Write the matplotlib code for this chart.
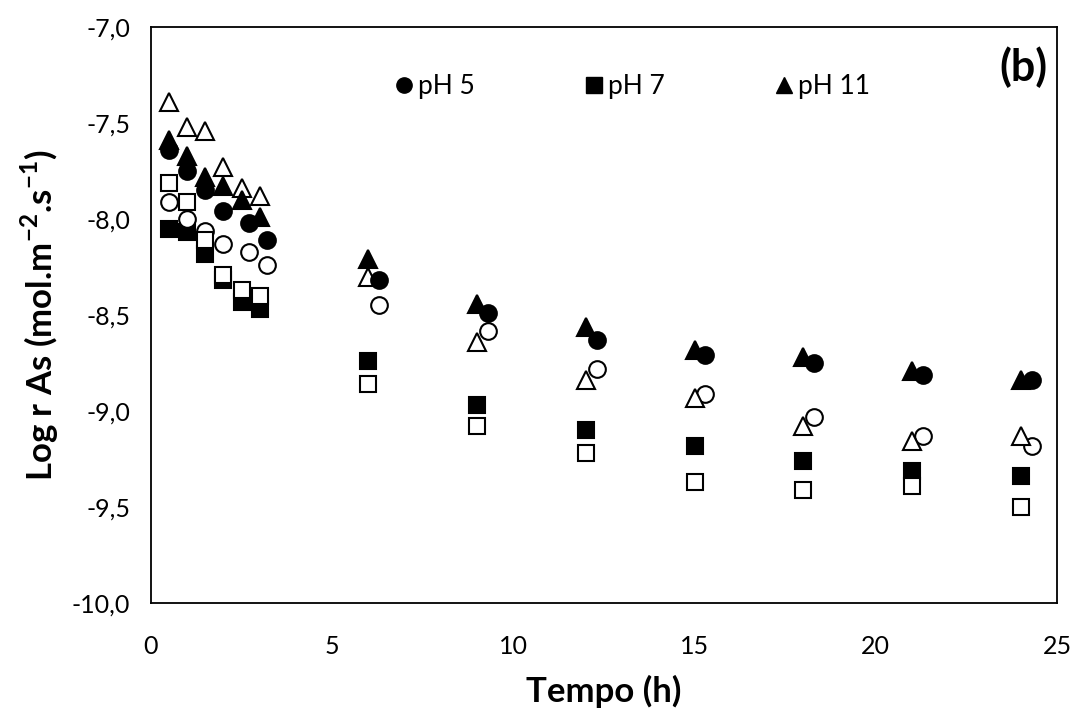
import numpy as np
import matplotlib
matplotlib.use("Agg")
import matplotlib.pyplot as plt
from matplotlib.ticker import FuncFormatter

# times (h); pH 5 points are shifted a little to the right in the original
t_main = [0.5, 1, 1.5, 2, 2.5, 3, 6, 9, 12, 15, 18, 21, 24]
t_ph5 = [0.5, 1, 1.5, 2, 2.7, 3.2, 6.3, 9.3, 12.3, 15.3, 18.3, 21.3, 24.3]

ph5_filled = [-7.64, -7.75, -7.85, -7.96, -8.02, -8.11, -8.32, -8.49, -8.63, -8.71, -8.75, -8.81, -8.84]
ph5_open = [-7.91, -8.00, -8.06, -8.13, -8.17, -8.24, -8.45, -8.585, -8.78, -8.91, -9.03, -9.13, -9.18]
ph7_filled = [-8.05, -8.07, -8.18, -8.32, -8.43, -8.47, -8.74, -8.97, -9.10, -9.18, -9.26, -9.31, -9.34]
ph7_open = [-7.81, -7.91, -8.11, -8.29, -8.37, -8.40, -8.86, -9.08, -9.22, -9.37, -9.41, -9.39, -9.50]
ph11_filled = [-7.59, -7.67, -7.78, -7.83, -7.90, -7.99, -8.21, -8.44, -8.56, -8.68, -8.72, -8.79, -8.84]
ph11_open = [-7.39, -7.52, -7.54, -7.73, -7.84, -7.88, -8.30, -8.64, -8.84, -8.93, -9.08, -9.155, -9.13]

plt.rcParams['font.family'] = ['Lato', 'DejaVu Sans']
plt.rcParams['mathtext.fontset'] = 'custom'
plt.rcParams['mathtext.bf'] = 'Lato:bold'
plt.rcParams['mathtext.rm'] = 'Lato:bold'

fig = plt.figure(figsize=(10.76, 7.15), dpi=100)
ax = fig.add_axes([0.1403, 0.1566, 0.8420, 0.8056])

ms = 12
ew = 1.5
ax.plot(t_main, ph7_filled, 's', ms=ms, mfc='black', mec='black', mew=ew, zorder=3)
ax.plot(t_ph5, ph5_open, 'o', ms=ms, mfc='white', mec='black', mew=ew, zorder=4)
ax.plot(t_main, ph7_open, 's', ms=ms, mfc='white', mec='black', mew=ew, zorder=5)
ax.plot(t_main, ph11_open, '^', ms=ms + 1, mfc='white', mec='black', mew=ew, zorder=6)
ax.plot(t_main, ph11_filled, '^', ms=ms + 1, mfc='black', mec='black', mew=ew, zorder=7)
ax.plot(t_ph5, ph5_filled, 'o', ms=ms, mfc='black', mec='black', mew=ew, zorder=8)

# legend shows only the filled series
h5, = ax.plot([], [], 'o', ms=11, color='black')
h7, = ax.plot([], [], 's', ms=11, color='black')
h11, = ax.plot([], [], '^', ms=11, color='black')
ax.legend([h5, h7, h11], ['pH 5', 'pH 7', 'pH 11'], ncol=3, frameon=False,
          loc='center', bbox_to_anchor=(0.532, 0.896), fontsize=19,
          handlelength=0.6, handletextpad=0.25, columnspacing=4.2)

ax.text(0.99, 0.93, '(b)', transform=ax.transAxes, ha='right', va='center',
        fontsize=31, fontweight='bold')

ax.set_xlim(0, 25)
ax.set_ylim(-10, -7)
ax.set_xticks(np.arange(0, 26, 5))
ax.set_yticks(np.arange(-10, -6.9, 0.5))
ax.yaxis.set_major_formatter(FuncFormatter(lambda v, p: f'{v:.1f}'.replace('.', ',')))
ax.tick_params(length=0, labelsize=18)
ax.tick_params(axis='x', pad=23)
ax.tick_params(axis='y', pad=15)
for s in ax.spines.values():
    s.set_linewidth(1.3)

ax.set_xlabel('Tempo (h)', fontsize=25, fontweight='bold', labelpad=12)
ax.set_ylabel(r'Log r As (mol.m$^{\mathbf{-2}}$.s$^{\mathbf{-1}}$)', fontsize=25,
              fontweight='bold', labelpad=8)

fig.savefig('out.png', dpi=100)
